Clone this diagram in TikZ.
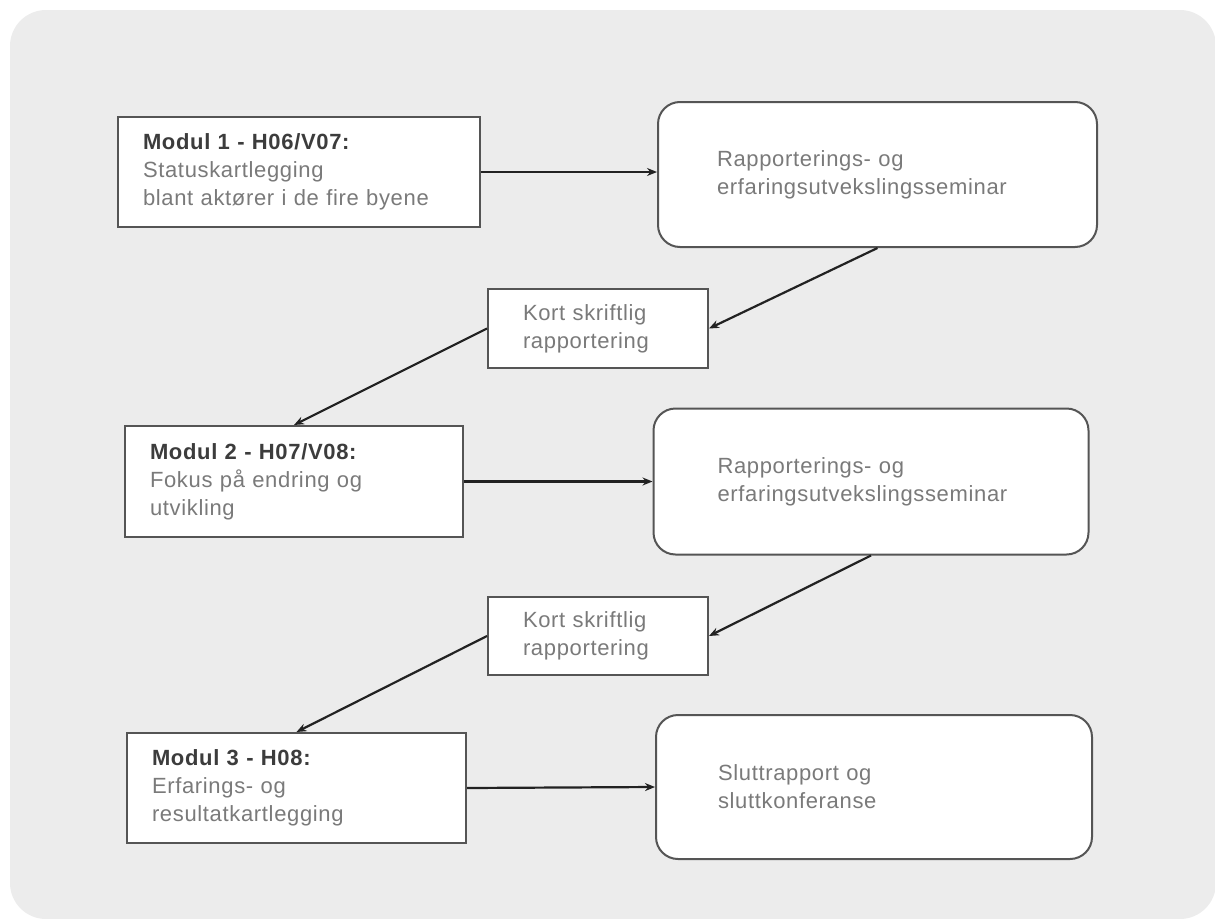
\documentclass[tikz,border=0pt]{standalone}
\usepackage{fontspec}
\setmainfont[LetterSpace=3]{Liberation Sans}
\usetikzlibrary{arrows.meta}
\definecolor{bgc}{HTML}{ECECEC}
\definecolor{edgec}{HTML}{555555}
\definecolor{txtc}{HTML}{7A7A7A}
\definecolor{boldc}{HTML}{3C3C3C}
\definecolor{arrc}{HTML}{222222}
\tikzset{
  box/.style={draw=edgec, line width=2pt, fill=white, rectangle, align=left,
    text=txtc, font=\fontsize{22}{28}\selectfont, inner ysep=0pt},
  rbox/.style={box, rounded corners=22pt},
  conn/.style={draw=arrc, line width=2.2pt, -{Stealth[length=10pt,width=8pt]}},
}
\newcommand{\hdtext}[1]{{\bfseries\color{boldc}#1}}
\begin{document}
\begin{tikzpicture}[x=1pt,y=-1pt]
\useasboundingbox (0,0) rectangle (1215,918);
\fill[bgc, rounded corners=36pt] (10,10) rectangle (1216,919);

\node[box, minimum width=362pt, minimum height=110pt, inner xsep=25pt, text width=312pt] (m1) at (299,172)
  {\hdtext{Modul 1 - H06/V07:}\\Statuskartlegging\\blant aktører i de fire byene};
\node[rbox, minimum width=439pt, minimum height=145pt, inner xsep=59pt, text width=321pt] (r1) at (877.5,174.5)
  {Rapporterings- og\\erfaringsutvekslingsseminar};
\node[box, minimum width=220pt, minimum height=79pt, inner xsep=35pt, text width=150pt] (k1) at (598,328.5)
  {Kort skriftlig\\rapportering};

\node[box, minimum width=338pt, minimum height=111pt, inner xsep=25pt, text width=288pt] (m2) at (294,481.5)
  {\hdtext{Modul 2 - H07/V08:}\\Fokus på endring og\\utvikling};
\node[rbox, minimum width=435pt, minimum height=146pt, inner xsep=64pt, text width=307pt] (r2) at (871,481.5)
  {Rapporterings- og\\erfaringsutvekslingsseminar};
\node[box, minimum width=220pt, minimum height=78pt, inner xsep=35pt, text width=150pt] (k2) at (598,636)
  {Kort skriftlig\\rapportering};

\node[box, minimum width=339pt, minimum height=110pt, inner xsep=25pt, text width=289pt] (m3) at (296.5,788)
  {\hdtext{Modul 3 - H08:}\\Erfarings- og\\resultatkartlegging};
\node[rbox, minimum width=436pt, minimum height=144pt, inner xsep=62pt, text width=312pt] (r3) at (874,787)
  {Sluttrapport og\\sluttkonferanse};

\draw[conn] (m1.east) -- (r1.west |- m1.east);
\draw[conn] (r1.south) -- (k1.east);
\draw[conn] (k1.west) -- (m2.north);
\draw[conn] (m2.east) -- (r2.west);
\draw[conn] (r2.south) -- (k2.east);
\draw[conn] (k2.west) -- (m3.north);
\draw[conn] (m3.east) -- (r3.west);
\end{tikzpicture}
\end{document}
